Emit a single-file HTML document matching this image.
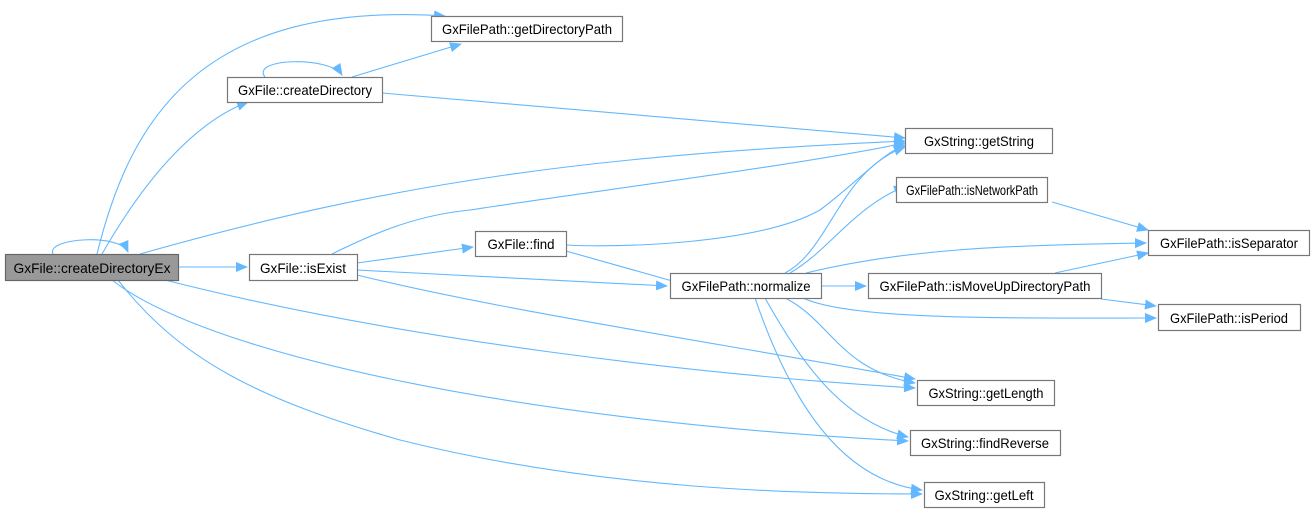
<!DOCTYPE html>
<html><head><meta charset="utf-8"><style>
body{margin:0;background:#fff;width:1316px;height:513px;overflow:hidden}
svg{display:block}
text{font-family:"Liberation Sans",sans-serif;font-size:13.6px;fill:#000}
</style></head><body>
<svg width="1316" height="513" viewBox="0 0 1316 513">
<defs><marker id="a" markerWidth="12" markerHeight="10" refX="11" refY="5" orient="auto" markerUnits="userSpaceOnUse"><path d="M0,0 L12,5 L0,10 z" fill="#63b8ff"/></marker></defs>
<g fill="none" stroke="#63b8ff" stroke-width="1.1" marker-end="url(#a)">
<path d="M53,254 C45,238 120,233 128,252"/>
<path d="M97,254 C130,120 200,0 445,16"/>
<path d="M102,254 C150,170 200,120 248,102"/>
<path d="M140,254 C400,180 600,155 905,141"/>
<path d="M178,267 L247,267"/>
<path d="M112,280 C200,350 500,420 908,441"/>
<path d="M118,280 C180,360 260,400 400,440 C600,490 800,494 922,494"/>
<path d="M165,280 C400,340 700,375 915,388"/>
<path d="M265,77 C250,58 330,56 342,75"/>
<path d="M352,77 L461,44"/>
<path d="M382,93 L905,138"/>
<path d="M332,254 C380,230 420,215 470,210 C600,190 800,165 905,143"/>
<path d="M357,263 L473,247"/>
<path d="M357,270 L667,286"/>
<path d="M357,275 C500,310 700,340 915,379"/>
<path d="M566,245 C620,248 760,244 820,210 C860,180 880,155 905,145"/>
<path d="M566,251 L683,284"/>
<path d="M785,273 C830,250 840,170 905,147"/>
<path d="M790,273 C830,250 850,210 905,186"/>
<path d="M806,273 C900,250 1000,245 1146,243"/>
<path d="M821,286 L866,286"/>
<path d="M803,298 C850,320 1000,318 1156,318"/>
<path d="M785,298 C830,320 840,370 915,383"/>
<path d="M765,298 C800,360 840,420 908,437"/>
<path d="M755,298 C790,400 840,480 922,490"/>
<path d="M1052,202 L1148,230"/>
<path d="M1055,273 L1148,253"/>
<path d="M1101,299 L1156,306"/>
</g>
<g stroke-width="1.2">
<rect x="5.5" y="254.5" width="173" height="26" fill="#999" stroke="#666"/>
<g fill="#fff" stroke="#777">
<rect x="431.5" y="16.5" width="191" height="25"/>
<rect x="227.5" y="77.5" width="155" height="25"/>
<rect x="905.5" y="128.5" width="147" height="25"/>
<rect x="896.5" y="177.5" width="151" height="25"/>
<rect x="1148.5" y="230.5" width="161" height="25"/>
<rect x="475.5" y="231.5" width="91" height="25"/>
<rect x="249.5" y="254.5" width="108" height="26"/>
<rect x="670.5" y="273.5" width="151" height="25"/>
<rect x="868.5" y="273.5" width="233" height="25"/>
<rect x="1158.5" y="304.5" width="142" height="26"/>
<rect x="917.5" y="380.5" width="137" height="25"/>
<rect x="910.5" y="430.5" width="150" height="25"/>
<rect x="924.5" y="482.5" width="120" height="25"/>
</g></g>
<g text-anchor="middle">
<text x="92" y="273" textLength="157" lengthAdjust="spacingAndGlyphs">GxFile::createDirectoryEx</text>
<text x="527" y="34" textLength="170" lengthAdjust="spacingAndGlyphs">GxFilePath::getDirectoryPath</text>
<text x="305" y="95" textLength="134" lengthAdjust="spacingAndGlyphs">GxFile::createDirectory</text>
<text x="979" y="146" textLength="110" lengthAdjust="spacingAndGlyphs">GxString::getString</text>
<text x="972" y="195" textLength="132" lengthAdjust="spacingAndGlyphs">GxFilePath::isNetworkPath</text>
<text x="1229" y="248" textLength="138" lengthAdjust="spacingAndGlyphs">GxFilePath::isSeparator</text>
<text x="521" y="249" textLength="67" lengthAdjust="spacingAndGlyphs">GxFile::find</text>
<text x="303" y="273" textLength="86" lengthAdjust="spacingAndGlyphs">GxFile::isExist</text>
<text x="746" y="291" textLength="129" lengthAdjust="spacingAndGlyphs">GxFilePath::normalize</text>
<text x="985" y="291" textLength="211" lengthAdjust="spacingAndGlyphs">GxFilePath::isMoveUpDirectoryPath</text>
<text x="1229" y="323" textLength="118" lengthAdjust="spacingAndGlyphs">GxFilePath::isPeriod</text>
<text x="986" y="398" textLength="115" lengthAdjust="spacingAndGlyphs">GxString::getLength</text>
<text x="985" y="448" textLength="128" lengthAdjust="spacingAndGlyphs">GxString::findReverse</text>
<text x="984" y="500" textLength="99" lengthAdjust="spacingAndGlyphs">GxString::getLeft</text>
</g>
</svg>
</body></html>
